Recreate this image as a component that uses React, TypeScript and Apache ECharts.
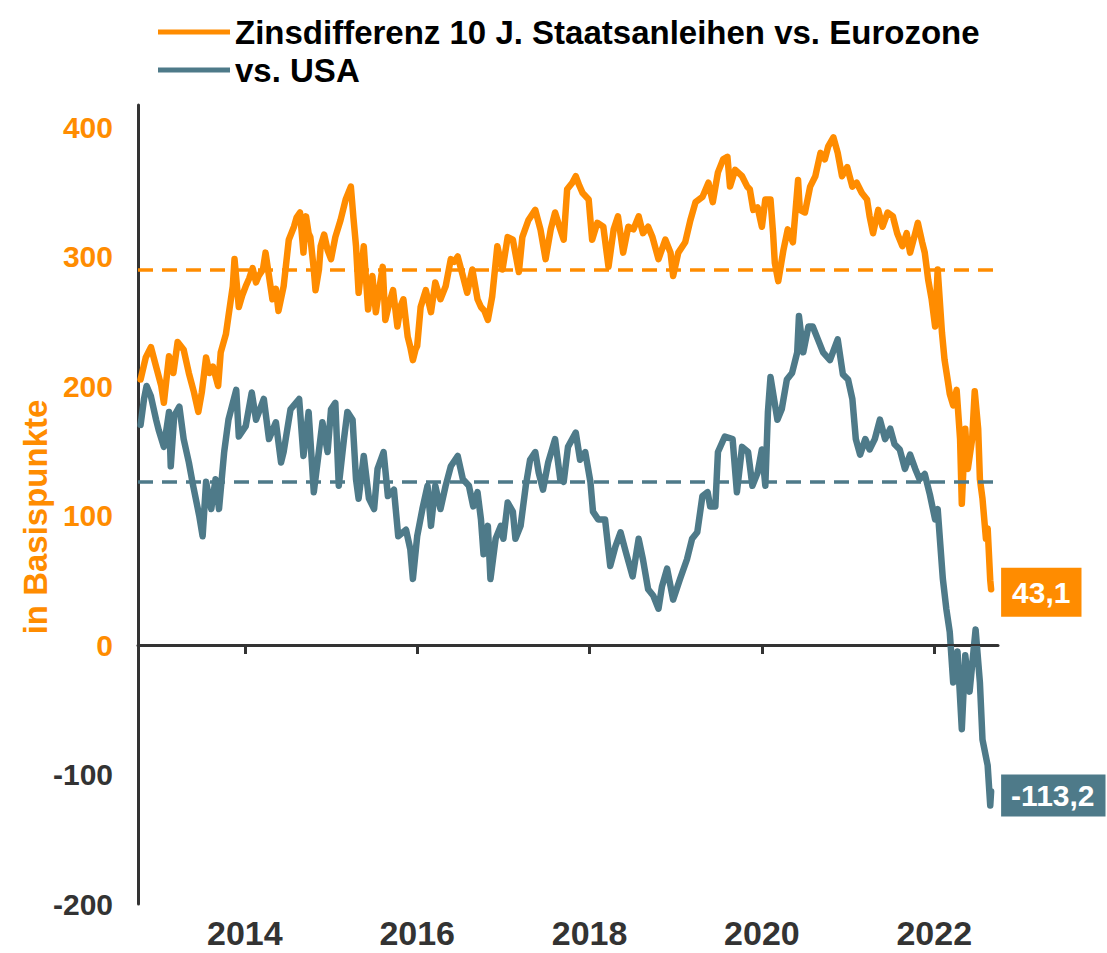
import React, { useEffect, useRef } from 'react';
import * as echarts from 'echarts';

const ORANGE = '#FF8C00';
const TEAL = '#4E7A89';
const DARK = '#333333';
const FONT = "'Liberation Sans', Arial, sans-serif";

const seriesNames = ['Zinsdifferenz 10 J. Staatsanleihen vs. Eurozone', 'vs. USA'];
const xTickYears = [2014, 2016, 2018, 2020, 2022];
const yAxisTitle = 'in Basispunkte';
const averageEurozone = 290;
const averageUSA = 126;

const euroYears = [
  2012.79, 2012.85, 2012.91, 2012.97, 2013.03, 2013.06, 2013.12, 2013.17, 2013.22, 2013.29, 2013.35, 2013.41,
  2013.46, 2013.50, 2013.55, 2013.59, 2013.63, 2013.69, 2013.72, 2013.78, 2013.81, 2013.86, 2013.88, 2013.93,
  2013.97, 2014.01, 2014.05, 2014.09, 2014.13, 2014.16, 2014.21, 2014.24, 2014.28, 2014.32, 2014.36, 2014.39,
  2014.45, 2014.51, 2014.57, 2014.60, 2014.64, 2014.68, 2014.71, 2014.74, 2014.76, 2014.80, 2014.82, 2014.86,
  2014.88, 2014.92, 2014.96, 2015.00, 2015.05, 2015.11, 2015.17, 2015.23, 2015.26, 2015.29, 2015.32, 2015.38,
  2015.43, 2015.48, 2015.52, 2015.56, 2015.60, 2015.63, 2015.68, 2015.72, 2015.77, 2015.81, 2015.84, 2015.89,
  2015.92, 2015.95, 2015.98, 2016.00, 2016.04, 2016.10, 2016.16, 2016.21, 2016.27, 2016.33, 2016.39, 2016.43,
  2016.47, 2016.53, 2016.58, 2016.64, 2016.70, 2016.74, 2016.78, 2016.82, 2016.87, 2016.93, 2016.99, 2017.05,
  2017.11, 2017.18, 2017.22, 2017.29, 2017.37, 2017.43, 2017.49, 2017.55, 2017.60, 2017.66, 2017.70, 2017.74,
  2017.80, 2017.84, 2017.88, 2017.92, 2017.99, 2018.03, 2018.09, 2018.16, 2018.22, 2018.28, 2018.33, 2018.39,
  2018.45, 2018.51, 2018.57, 2018.62, 2018.68, 2018.73, 2018.80, 2018.88, 2018.94, 2018.97, 2019.03, 2019.11,
  2019.17, 2019.23, 2019.31, 2019.38, 2019.43, 2019.49, 2019.55, 2019.60, 2019.63, 2019.69, 2019.77, 2019.83,
  2019.86, 2019.90, 2019.95, 2020.00, 2020.04, 2020.10, 2020.13, 2020.15, 2020.19, 2020.25, 2020.30, 2020.36,
  2020.42, 2020.44, 2020.50, 2020.56, 2020.62, 2020.68, 2020.73, 2020.77, 2020.83, 2020.88, 2020.93, 2020.99,
  2021.05, 2021.10, 2021.16, 2021.22, 2021.25, 2021.29, 2021.35, 2021.40, 2021.46, 2021.52, 2021.57, 2021.63,
  2021.68, 2021.72, 2021.78, 2021.81, 2021.86, 2021.89, 2021.93, 2021.97, 2022.01, 2022.04, 2022.09, 2022.12,
  2022.16, 2022.18, 2022.22, 2022.26, 2022.30, 2022.32, 2022.36, 2022.39, 2022.44, 2022.47, 2022.51, 2022.53,
  2022.56, 2022.60, 2022.62, 2022.65, 2022.66,
];
const euroValues = [
  205, 222, 230, 215, 200, 187, 223, 210, 234, 228, 210, 195,
  180, 195, 222, 210, 215, 200, 226, 240, 254, 277, 298, 261,
  270, 277, 283, 291, 280, 285, 290, 303, 285, 267, 275, 258,
  277, 313, 323, 330, 334, 303, 331, 318, 315, 290, 274, 290,
  308, 317, 305, 298, 315, 328, 344, 354, 330, 308, 272, 308,
  259, 285, 257, 275, 292, 251, 265, 274, 246, 262, 267, 238,
  230, 220, 228, 231, 261, 274, 257, 280, 267, 277, 298, 296,
  300, 285, 272, 290, 267, 261, 258, 251, 269, 308, 290, 315,
  313, 288, 315, 328, 336, 321, 298, 321, 334, 321, 313, 352,
  357, 362, 355, 349, 344, 313, 326, 323, 292, 321, 331, 303,
  323, 321, 331, 318, 323, 315, 298, 313, 303, 285, 303, 311,
  328, 342, 346, 357, 342, 365, 375, 377, 354, 367, 362, 354,
  352, 336, 338, 323, 344, 344, 318, 295, 281, 305, 321, 311,
  359, 336, 334, 354, 362, 380, 375, 385, 392, 380, 362, 369,
  354, 357, 349, 344, 331, 318, 336, 323, 334, 331, 318, 308,
  318, 303, 318, 326, 311, 303, 282, 267, 246, 290, 241, 220,
  203, 194, 185, 197, 159, 109, 167, 136, 159, 196, 167, 128,
  113, 82, 90, 50, 43.1,
];

const usaYears = [
  2012.79, 2012.83, 2012.86, 2012.91, 2012.97, 2013.00, 2013.06, 2013.12, 2013.14, 2013.18, 2013.24, 2013.29,
  2013.35, 2013.40, 2013.47, 2013.51, 2013.55, 2013.61, 2013.66, 2013.70, 2013.76, 2013.81, 2013.90, 2013.93,
  2014.01, 2014.08, 2014.13, 2014.22, 2014.28, 2014.36, 2014.42, 2014.45, 2014.53, 2014.63, 2014.68, 2014.74,
  2014.80, 2014.86, 2014.90, 2014.96, 2015.00, 2015.05, 2015.09, 2015.15, 2015.19, 2015.25, 2015.29, 2015.32,
  2015.38, 2015.44, 2015.50, 2015.54, 2015.61, 2015.66, 2015.73, 2015.78, 2015.87, 2015.92, 2015.95, 2016.00,
  2016.06, 2016.12, 2016.16, 2016.21, 2016.27, 2016.33, 2016.39, 2016.47, 2016.53, 2016.60, 2016.65, 2016.70,
  2016.74, 2016.77, 2016.82, 2016.85, 2016.91, 2016.97, 2017.00, 2017.05, 2017.11, 2017.14, 2017.20, 2017.26,
  2017.31, 2017.37, 2017.41, 2017.46, 2017.52, 2017.60, 2017.66, 2017.70, 2017.75, 2017.84, 2017.89, 2017.95,
  2018.01, 2018.04, 2018.10, 2018.18, 2018.24, 2018.30, 2018.36, 2018.42, 2018.50, 2018.57, 2018.62, 2018.68,
  2018.74, 2018.80, 2018.84, 2018.90, 2018.97, 2019.05, 2019.13, 2019.19, 2019.25, 2019.31, 2019.37, 2019.40,
  2019.46, 2019.49, 2019.57, 2019.66, 2019.71, 2019.77, 2019.84, 2019.89, 2019.95, 2020.00, 2020.04, 2020.07,
  2020.10, 2020.18, 2020.23, 2020.29, 2020.35, 2020.41, 2020.43, 2020.48, 2020.54, 2020.59, 2020.65, 2020.71,
  2020.79, 2020.88, 2020.94, 2021.00, 2021.05, 2021.09, 2021.14, 2021.20, 2021.25, 2021.31, 2021.37, 2021.43,
  2021.49, 2021.54, 2021.60, 2021.66, 2021.72, 2021.78, 2021.83, 2021.89, 2021.95, 2022.01, 2022.04, 2022.07,
  2022.10, 2022.14, 2022.18, 2022.22, 2022.27, 2022.32, 2022.36, 2022.41, 2022.48, 2022.53, 2022.56, 2022.62,
  2022.65, 2022.66,
];
const usaValues = [
  170, 190, 200, 192, 174, 166, 153, 180, 138, 177, 184, 159,
  141, 123, 100, 84, 126, 105, 128, 105, 149, 174, 197, 161,
  169, 195, 174, 190, 159, 172, 141, 149, 182, 190, 146, 180,
  118, 150, 172, 149, 182, 187, 123, 159, 180, 174, 128, 113,
  146, 113, 105, 136, 149, 115, 120, 84, 89, 74, 51, 84,
  105, 123, 92, 123, 105, 123, 138, 146, 128, 123, 107, 118,
  97, 70, 92, 51, 82, 92, 82, 110, 103, 82, 92, 123,
  143, 149, 133, 120, 141, 159, 128, 126, 153, 164, 143, 149,
  126, 103, 97, 97, 61, 76, 87, 72, 53, 82, 66, 43,
  38, 28, 45, 59, 35, 51, 66, 82, 87, 115, 118, 107,
  107, 149, 161, 159, 118, 153, 149, 123, 133, 151, 123, 180,
  207, 174, 182, 205, 210, 226, 254, 226, 246, 246, 236, 226,
  220, 236, 209, 205, 190, 159, 147, 159, 151, 159, 174, 159,
  167, 155, 151, 136, 147, 136, 128, 132, 116, 97, 105, 78,
  51, 28, 10, -29, -5, -65, -8, -36, 12, -29, -73, -93,
  -124, -113.2,
];

const zip = (xs: number[], ys: number[]) => xs.map((x, i) => [x, ys[i]]);
const fmtDe = (v: number) => Number(v).toFixed(1).replace('.', ',');

export default function App() {
  const ref = useRef<HTMLDivElement>(null);

  useEffect(() => {
    if (!ref.current) return;
    const chart = echarts.init(ref.current, null, { renderer: 'svg' });
    const option: any = {
      animation: false,
      backgroundColor: '#ffffff',
      textStyle: { fontFamily: FONT },
      grid: { left: 138, right: 109, top: 105, bottom: 49, containLabel: false },
      legend: {
        orient: 'vertical',
        left: 153,
        top: 8,
        itemWidth: 72,
        itemHeight: 5,
        itemGap: 0,
        icon: 'rect',
        selectedMode: false,
        data: seriesNames,
        textStyle: {
          fontFamily: FONT,
          fontWeight: 'bold',
          fontSize: 33,
          lineHeight: 38,
          color: '#000000',
        },
      },
      graphic: [
        {
          type: 'text',
          x: 35,
          y: 517,
          rotation: Math.PI / 2,
          style: {
            text: yAxisTitle,
            fill: ORANGE,
            font: `bold 33px ${FONT}`,
            textAlign: 'center',
            textVerticalAlign: 'middle',
          },
        },
      ],
      xAxis: {
        type: 'value',
        min: 2012.76,
        max: 2022.74,
        splitLine: { show: false },
        axisLine: { show: true, lineStyle: { color: DARK, width: 3 } },
        axisTick: {
          show: true,
          customValues: xTickYears,
          length: 9,
          lineStyle: { color: DARK, width: 3 },
        },
        axisLabel: {
          customValues: xTickYears,
          formatter: (v: number) => String(Math.round(v)),
          color: DARK,
          fontFamily: FONT,
          fontWeight: 'bold',
          fontSize: 34,
          lineHeight: 36,
          margin: 11,
        },
      },
      yAxis: {
        type: 'value',
        min: -200,
        max: 417,
        interval: 100,
        splitLine: { show: false },
        axisLine: { show: true, lineStyle: { color: DARK, width: 3 } },
        axisTick: { show: false },
        axisLabel: {
          formatter: (v: number) => (Math.round(v) % 100 === 0 ? String(Math.round(v)) : ''),
          color: (v: any) => (parseFloat(v) >= 0 ? ORANGE : DARK),
          fontFamily: FONT,
          fontWeight: 'bold',
          fontSize: 30,
          margin: 25,
        },
      },
      series: [
        {
          name: seriesNames[0],
          type: 'line',
          z: 2,
          showSymbol: false,
          symbol: 'none',
          data: zip(euroYears, euroValues),
          lineStyle: { color: ORANGE, width: 6.5, join: 'round', cap: 'round' },
          itemStyle: { color: ORANGE },
          endLabel: {
            show: true,
            formatter: (p: any) => fmtDe(p.value[1]),
            color: '#ffffff',
            fontFamily: FONT,
            fontWeight: 'bold',
            fontSize: 30,
            backgroundColor: ORANGE,
            padding: [10, 11, 9, 11],
            distance: 10,
            offset: [0, 3],
          },
          markLine: {
            silent: true,
            symbol: ['none', 'none'],
            label: { show: false },
            data: [
              { yAxis: 0, lineStyle: { color: DARK, type: 'solid', width: 2 } },
              { yAxis: averageEurozone, lineStyle: { color: ORANGE, type: [15, 9], width: 3.5 } },
            ],
          },
        },
        {
          name: seriesNames[1],
          type: 'line',
          z: 3,
          showSymbol: false,
          symbol: 'none',
          data: zip(usaYears, usaValues),
          lineStyle: { color: TEAL, width: 6.5, join: 'round', cap: 'round' },
          itemStyle: { color: TEAL },
          endLabel: {
            show: true,
            formatter: (p: any) => fmtDe(p.value[1]),
            color: '#ffffff',
            fontFamily: FONT,
            fontWeight: 'bold',
            fontSize: 30,
            backgroundColor: TEAL,
            padding: [6, 11, 6, 10],
            distance: 10,
            offset: [0, 4],
          },
          markLine: {
            silent: true,
            symbol: ['none', 'none'],
            label: { show: false },
            data: [{ yAxis: averageUSA, lineStyle: { color: TEAL, type: [15, 9], width: 3.5 } }],
          },
        },
      ],
    };
    chart.setOption(option);
    return () => chart.dispose();
  }, []);

  return (
    <div
      ref={ref}
      style={{ position: 'fixed', left: 0, top: 0, width: 1107, height: 953, background: '#fff' }}
    />
  );
}
